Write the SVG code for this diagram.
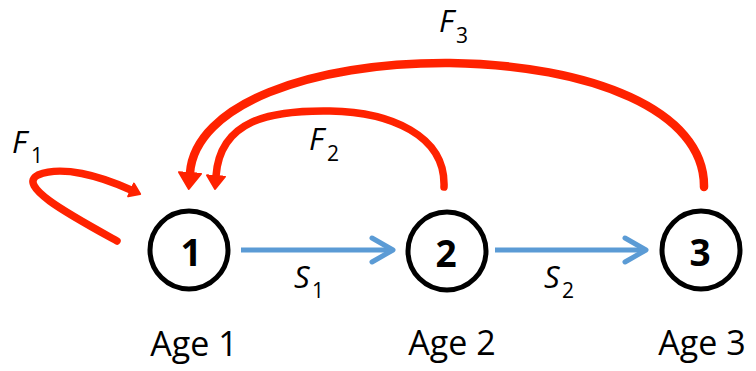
<svg xmlns="http://www.w3.org/2000/svg" width="756" height="371" viewBox="0 0 756 371">
<style>
  .node { fill: #ffffff; stroke: #000000; stroke-width: 5; }
  .num { font-family: "Open Sans", "Liberation Sans", sans-serif; font-weight: bold; font-size: 37px; text-anchor: middle; fill: #000; }
  .age { font-family: "Open Sans", "Liberation Sans", sans-serif; font-size: 34px; text-anchor: middle; fill: #000; }
  .lbl { font-family: "Open Sans", "Liberation Sans", sans-serif; font-style: italic; font-size: 31px; fill: #000; }
  .sub { font-style: normal; font-size: 21px; }
  .fec { fill: none; stroke: #ff2200; stroke-linecap: round; }
  .surv { fill: none; stroke: #5b9bd5; stroke-width: 5; stroke-linecap: butt; }
</style>
<defs>
  <marker id="headBig" markerUnits="userSpaceOnUse" viewBox="0 -13 19 26" markerWidth="19" markerHeight="26" refX="1" refY="0" orient="auto">
    <path d="M1,-11 L17,0 L1,11 Z" fill="#ff2200" stroke="#ff2200" stroke-width="2" stroke-linejoin="round"/>
  </marker>
  <marker id="headMid" markerUnits="userSpaceOnUse" viewBox="0 -11 16 22" markerWidth="16" markerHeight="22" refX="1" refY="0" orient="auto">
    <path d="M1,-9 L14,0 L1,9 Z" fill="#ff2200" stroke="#ff2200" stroke-width="2" stroke-linejoin="round"/>
  </marker>
  <marker id="headSmall" markerUnits="userSpaceOnUse" viewBox="0 -9 13 18" markerWidth="13" markerHeight="18" refX="1" refY="0" orient="auto">
    <path d="M1,-7 L11,0 L1,7 Z" fill="#ff2200" stroke="#ff2200" stroke-width="2" stroke-linejoin="round"/>
  </marker>
  <marker id="chev" markerUnits="userSpaceOnUse" viewBox="-27 -16 31 32" markerWidth="31" markerHeight="32" refX="0" refY="0" orient="auto">
    <path d="M-21,-12 L0,0 L-21,12" fill="none" stroke="#5b9bd5" stroke-width="5" stroke-linecap="round" stroke-linejoin="round"/>
  </marker>
</defs>

<g id="connectors">
  <path id="s1" class="surv" d="M241,250 H393" marker-end="url(#chev)"/>
  <path id="s2" class="surv" d="M495,250 H646" marker-end="url(#chev)"/>
  <path id="f1" class="fec" stroke-width="7.5" d="M117,241 C70,215 16,186 38,175 C62,165 100,176 131,190" marker-end="url(#headSmall)"/>
  <path id="f2" class="fec" stroke-width="7.5" d="M444,187 C446,135 390,112 330,111 C270,110 220,120 216,176" marker-end="url(#headMid)"/>
  <path id="f3" class="fec" stroke-width="8.5" d="M704,187 C705,110 590,65 450,63 C310,62 195,105 190,173" marker-end="url(#headBig)"/>
  <text class="lbl" x="12" y="153">F<tspan class="sub" x="31" y="163">1</tspan></text>
  <text class="lbl" x="309" y="150">F<tspan class="sub" x="327" y="161">2</tspan></text>
  <text class="lbl" x="439" y="32">F<tspan class="sub" x="456" y="43">3</tspan></text>
  <text class="lbl" x="294" y="288">S<tspan class="sub" x="312" y="298">1</tspan></text>
  <text class="lbl" x="544" y="288">S<tspan class="sub" x="562" y="298">2</tspan></text>
</g>

<g id="node1">
  <circle class="node" cx="189" cy="250" r="39"/>
  <text class="num" x="191" y="266">1</text>
  <text class="age" x="194" y="356">Age 1</text>
</g>
<g id="node2">
  <circle class="node" cx="447" cy="251" r="39"/>
  <text class="num" x="446" y="267">2</text>
  <text class="age" x="452" y="355">Age 2</text>
</g>
<g id="node3">
  <circle class="node" cx="701" cy="250" r="39"/>
  <text class="num" x="700" y="266">3</text>
  <text class="age" x="702" y="355">Age 3</text>
</g>
</svg>
